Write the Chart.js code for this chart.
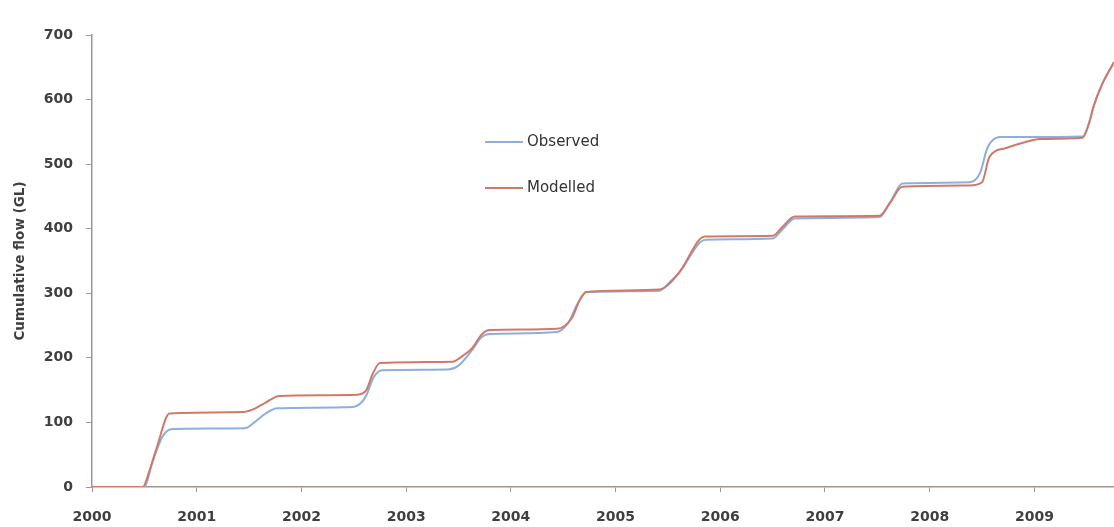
<!DOCTYPE html>
<html>
<head>
<meta charset="utf-8">
<title>Cumulative flow</title>
<script src="https://cdn.jsdelivr.net/npm/chart.js@4.4.1/dist/chart.umd.min.js"></script>
<style>
  html, body { margin: 0; padding: 0; background: #fff; }
  #wrap { width: 1114px; height: 527px; position: relative; }
</style>
</head>
<body>
<div id="wrap"><canvas id="flowChart"></canvas></div>
<script>
// Observed cumulative flow (GL), decimal year
const obsYears = [2000.00, 2000.50, 2000.58, 2000.68, 2000.77, 2001.46, 2001.55, 2001.66, 2001.77,
  2002.49, 2002.58, 2002.62, 2002.69, 2002.77, 2003.40, 2003.50, 2003.63, 2003.72, 2003.80,
  2004.44, 2004.55, 2004.64, 2004.72, 2005.42, 2005.52, 2005.61, 2005.80, 2005.86,
  2006.50, 2006.60, 2006.71, 2007.52, 2007.62, 2007.74, 2008.38, 2008.48, 2008.55, 2008.60,
  2008.67, 2009.46, 2009.53, 2009.56, 2009.65, 2009.76];
const obsFlow = [0, 0, 40, 80, 90, 91, 100, 114, 122,
  124, 132, 142, 170, 181, 182, 188, 212, 232, 237,
  240, 255, 285, 302, 304, 318, 332, 378, 383,
  385, 400, 416, 418, 440, 470, 472, 486, 525, 537,
  542, 543, 568, 587, 625, 658];

// Modelled cumulative flow (GL)
const modYears = [2000.00, 2000.485, 2000.55, 2000.62, 2000.74, 2001.44, 2001.55, 2001.65, 2001.79,
  2002.53, 2002.62, 2002.68, 2002.75, 2003.44, 2003.54, 2003.63, 2003.72, 2003.80,
  2004.44, 2004.58, 2004.66, 2004.72, 2005.42, 2005.61, 2005.80, 2005.85,
  2006.50, 2006.60, 2006.71, 2007.52, 2007.62, 2007.74, 2008.38, 2008.50, 2008.57,
  2008.73, 2008.89, 2009.05, 2009.46, 2009.53, 2009.56, 2009.65, 2009.76];
const modFlow = [0, 0, 26, 62, 114, 116, 121, 130, 141,
  143, 150, 175, 192, 194, 203, 215, 236, 243,
  245, 261, 290, 302, 306, 333, 383, 388,
  389, 404, 419, 420, 440, 465, 467, 472, 511,
  525, 533, 539, 541, 568, 587, 625, 658];

const seriesNames = ['Observed', 'Modelled'];
const yearTicks = [2000, 2001, 2002, 2003, 2004, 2005, 2006, 2007, 2008, 2009];

const axisColor = '#a3948f';
const labelColor = '#3f3f3f';
const tickFont = { family: '"DejaVu Sans", sans-serif', size: 14, weight: 'bold' };

function toPoints(xs, ys) {
  return xs.map((x, i) => ({ x: x, y: ys[i] }));
}

// legend drawn inside the plot, just a line sample and the name
const insideLegend = {
  id: 'insideLegend',
  afterDatasetsDraw(chart) {
    const ctx = chart.ctx;
    const x0 = 485;
    const rows = [142, 188];
    ctx.save();
    ctx.font = '15px "DejaVu Sans", sans-serif';
    ctx.textBaseline = 'middle';
    chart.data.datasets.forEach((ds, i) => {
      const y = rows[i];
      ctx.strokeStyle = ds.borderColor;
      ctx.lineWidth = 2;
      ctx.beginPath();
      ctx.moveTo(x0, y);
      ctx.lineTo(x0 + 38, y);
      ctx.stroke();
      ctx.fillStyle = '#333';
      ctx.fillText(ds.label, x0 + 42, y);
    });
    ctx.restore();
  }
};

const ctx = document.getElementById('flowChart').getContext('2d');
const flowChart = new Chart(ctx, {
  type: 'line',
  data: {
    datasets: [
      {
        label: seriesNames[0],
        data: toPoints(obsYears, obsFlow),
        borderColor: '#8eaede',
        borderWidth: 2,
        pointRadius: 0,
        cubicInterpolationMode: 'monotone',
        fill: false,
        order: 2
      },
      {
        label: seriesNames[1],
        data: toPoints(modYears, modFlow),
        borderColor: '#cf7a68',
        borderWidth: 2,
        pointRadius: 0,
        cubicInterpolationMode: 'monotone',
        fill: false,
        order: 1
      }
    ]
  },
  options: {
    responsive: true,
    maintainAspectRatio: false,
    animation: false,
    layout: { padding: { top: 35, right: 0, bottom: 0, left: 0 } },
    plugins: {
      legend: { display: false },
      tooltip: { enabled: false }
    },
    scales: {
      x: {
        type: 'linear',
        min: 2000,
        max: 2009.76,
        afterBuildTicks: (scale) => {
          scale.ticks = yearTicks.map(v => ({ value: v }));
        },
        afterFit: (scale) => { scale.height = 40; },
        border: { color: axisColor, width: 1.5 },
        grid: { drawOnChartArea: false, drawTicks: true, tickLength: 5, color: axisColor },
        ticks: {
          padding: 17,
          color: labelColor,
          font: tickFont,
          callback: (v) => String(v)
        }
      },
      y: {
        min: 0,
        max: 700,
        afterFit: (scale) => { scale.width = 92; },
        border: { color: axisColor, width: 1.5 },
        grid: { drawOnChartArea: false, drawTicks: true, tickLength: 6, color: axisColor },
        ticks: {
          stepSize: 100,
          padding: 13,
          color: labelColor,
          font: tickFont
        },
        title: {
          display: true,
          text: 'Cumulative flow (GL)',
          color: labelColor,
          padding: { top: 12, bottom: 0 },
          font: { family: '"DejaVu Sans", sans-serif', size: 13.5, weight: 'bold' }
        }
      }
    }
  },
  plugins: [insideLegend]
});
</script>
</body>
</html>
